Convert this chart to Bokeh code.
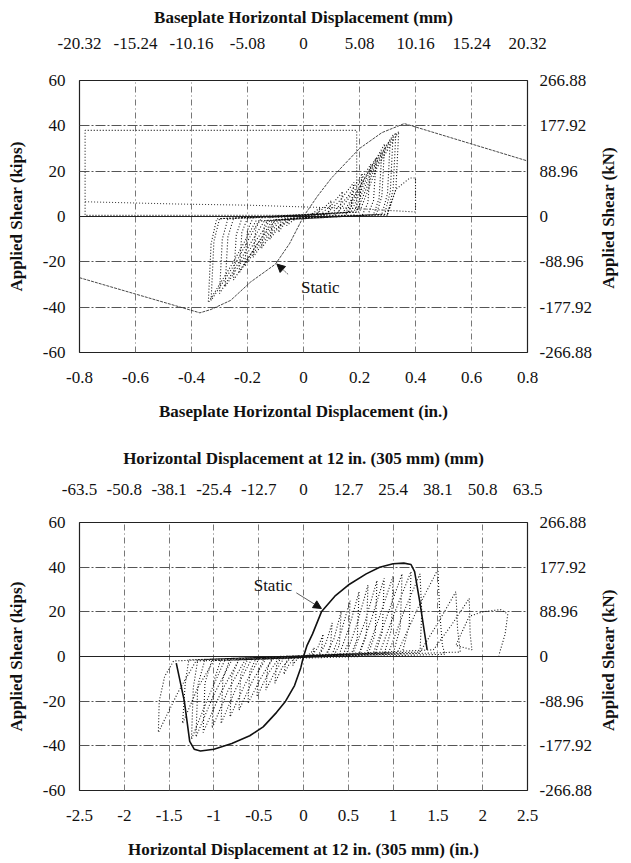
import math
from bokeh.plotting import figure
from bokeh.models import LinearAxis, FixedTicker, Range1d, Arrow, NormalHead
from bokeh.layouts import column
from bokeh.core.properties import value
from bokeh.embed import file_html
from bokeh.resources import INLINE

FONT = "'Liberation Serif', 'Times New Roman', serif"

# ---------------- Top panel data (baseplate displacement, in. / kips) ----------------
top_x_ticks = [-0.8, -0.6, -0.4, -0.2, 0.0, 0.2, 0.4, 0.6, 0.8]
top_x_labels = ["-0.8", "-0.6", "-0.4", "-0.2", "0", "0.2", "0.4", "0.6", "0.8"]
top_mm_labels = ["-20.32", "-15.24", "-10.16", "-5.08", "0", "5.08", "10.16", "15.24", "20.32"]

y_ticks = [-60, -40, -20, 0, 20, 40, 60]
y_labels = ["-60", "-40", "-20", "0", "20", "40", "60"]
kn_labels = ["-266.88", "-177.92", "-88.96", "0", "88.96", "177.92", "266.88"]

top_static_x = [-0.80, -0.37, -0.33, -0.26, -0.19, -0.10, -0.05, 0.00, 0.05, 0.10, 0.20, 0.28, 0.36, 0.80]
top_static_y = [-27.0, -42.5, -41.0, -37.0, -29.0, -21.0, -12.0, 0.0, 9.0, 17.0, 30.0, 37.0, 41.0, 24.5]

top_cyc_x = [0.00,
             0.02, 0.04, 0.06, 0.05, 0.03, -0.02, -0.04, -0.06, -0.05, -0.03,
             0.04, 0.07, 0.10, 0.09, 0.07, -0.04, -0.07, -0.09, -0.08, -0.06,
             0.06, 0.10, 0.14, 0.13, 0.11, -0.05, -0.09, -0.12, -0.11, -0.09,
             0.08, 0.13, 0.18, 0.17, 0.15, -0.06, -0.11, -0.15, -0.14, -0.12,
             0.10, 0.16, 0.21, 0.20, 0.18, -0.08, -0.13, -0.18, -0.17, -0.15,
             0.12, 0.18, 0.24, 0.23, 0.21, -0.09, -0.15, -0.21, -0.20, -0.18,
             0.14, 0.20, 0.26, 0.25, 0.23, -0.10, -0.17, -0.23, -0.22, -0.20,
             0.15, 0.21, 0.28, 0.27, 0.25, -0.11, -0.18, -0.25, -0.24, -0.22,
             0.16, 0.22, 0.29, 0.28, 0.26, -0.12, -0.20, -0.28, -0.27, -0.25,
             0.17, 0.23, 0.31, 0.30, 0.28, -0.14, -0.22, -0.30, -0.29, -0.27,
             0.18, 0.24, 0.32, 0.31, 0.29, -0.16, -0.24, -0.33, -0.32, -0.30,
             0.19, 0.25, 0.33, 0.32, 0.30, -0.17, -0.25, -0.34, -0.33, -0.31,
             0.20, 0.26, 0.34, 0.33, 0.30]
top_cyc_y = [0.0,
             0.5, 2.0, 4.0, 1.0, 0.2, -0.5, -2.0, -4.0, -1.0, -0.2,
             0.8, 3.5, 7.0, 2.0, 0.3, -0.8, -3.5, -7.0, -2.0, -0.3,
             1.0, 5.0, 11.0, 3.0, 0.4, -1.0, -5.0, -10.0, -3.0, -0.4,
             1.0, 7.0, 15.0, 4.0, 0.5, -1.0, -7.0, -14.0, -4.0, -0.5,
             1.2, 9.0, 19.0, 5.0, 0.6, -1.2, -9.0, -18.0, -5.0, -0.6,
             1.4, 11.0, 23.0, 6.0, 0.6, -1.4, -11.0, -22.0, -6.0, -0.6,
             1.5, 13.0, 26.0, 7.0, 0.7, -1.5, -13.0, -25.0, -7.0, -0.7,
             1.6, 15.0, 29.0, 8.0, 0.8, -1.6, -15.0, -28.0, -8.0, -0.8,
             1.8, 17.0, 32.0, 9.0, 0.9, -1.8, -16.0, -31.0, -9.0, -0.9,
             2.0, 18.0, 34.0, 10.0, 1.0, -2.0, -18.0, -34.0, -10.0, -1.0,
             2.0, 19.0, 36.0, 11.0, 1.0, -2.0, -20.0, -37.0, -11.0, -1.0,
             2.0, 20.0, 37.0, 12.0, 1.0, -2.0, -20.0, -38.0, -12.0, -1.0,
             2.0, 21.0, 37.5, 12.0, 1.0]

top_end_x = [0.30, 0.33, 0.38, 0.40, 0.40, 0.19, 0.19, -0.78, -0.78, 0.30]
top_end_y = [1.0, 12.0, 17.0, 17.0, 2.0, 3.5, 38.0, 38.0, 0.5, 0.5]
top_low_x = [-0.78, -0.45, -0.20, 0.19]
top_low_y = [6.5, 5.5, 5.0, 3.5]

# ---------------- Bottom panel data (displacement at 12 in., in. / kips) ----------------
bot_x_ticks = [-2.5, -2.0, -1.5, -1.0, -0.5, 0.0, 0.5, 1.0, 1.5, 2.0, 2.5]
bot_x_labels = ["-2.5", "-2", "-1.5", "-1", "-0.5", "0", "0.5", "1", "1.5", "2", "2.5"]
bot_mm_labels = ["-63.5", "-50.8", "-38.1", "-25.4", "-12.7", "0", "12.7", "25.4", "38.1", "50.8", "63.5"]

bot_static_x = [-1.42, -1.33, -1.27, -1.22, -1.15, -1.00, -0.80, -0.60, -0.45, -0.30, -0.20, -0.10, -0.03,
                0.00, 0.04, 0.10, 0.20, 0.35, 0.50, 0.70, 0.85, 1.00, 1.12, 1.20, 1.24, 1.30, 1.38]
bot_static_y = [-3.0, -20.0, -38.0, -41.5, -42.3, -41.5, -39.0, -35.5, -31.5, -25.0, -20.0, -13.0, -5.0,
                0.0, 5.0, 10.0, 20.0, 27.0, 32.0, 37.0, 40.0, 41.5, 41.8, 41.2, 38.0, 24.0, 3.0]

bot_cyc_x = [0.00,
             0.05, 0.09, 0.12, 0.11, 0.08, -0.05, -0.09, -0.12, -0.11, -0.08,
             0.10, 0.16, 0.22, 0.20, 0.16, -0.10, -0.16, -0.22, -0.20, -0.16,
             0.18, 0.25, 0.32, 0.30, 0.25, -0.15, -0.24, -0.32, -0.30, -0.25,
             0.25, 0.34, 0.42, 0.40, 0.34, -0.22, -0.32, -0.42, -0.40, -0.34,
             0.32, 0.42, 0.52, 0.50, 0.44, -0.28, -0.40, -0.52, -0.50, -0.44,
             0.40, 0.51, 0.62, 0.60, 0.53, -0.35, -0.48, -0.62, -0.60, -0.53,
             0.48, 0.60, 0.72, 0.70, 0.62, -0.42, -0.57, -0.72, -0.70, -0.62,
             0.55, 0.69, 0.82, 0.80, 0.72, -0.50, -0.66, -0.82, -0.80, -0.72,
             0.62, 0.76, 0.90, 0.88, 0.80, -0.58, -0.75, -0.92, -0.90, -0.82,
             0.70, 0.85, 1.00, 0.98, 0.90, -0.65, -0.84, -1.02, -1.00, -0.92,
             0.78, 0.94, 1.10, 1.08, 1.00, -0.72, -0.92, -1.12, -1.10, -1.02,
             0.85, 1.02, 1.20, 1.18, 1.10, -0.80, -1.00, -1.20, -1.18, -1.10,
             0.95, 1.12, 1.30, 1.32, 1.30, -0.88, -1.06, -1.25, -1.23, -1.18,
             1.05, 1.28, 1.50, 1.52, 1.55, 1.58, -1.00, -1.18, -1.35, -1.32, -1.28,
             1.30, 1.50, 1.70, 1.72, 1.75, -1.20, -1.40, -1.62, -1.61, -1.55, -1.45,
             1.45, 1.65, 1.85, 1.86, 1.88,
             1.70, 1.85, 2.00, 2.20, 2.28, 2.25, 2.18]
bot_cyc_y = [0.0,
             0.6, 2.0, 4.0, 1.5, 0.3, -0.6, -2.0, -4.0, -1.5, -0.3,
             0.7, 4.0, 10.0, 3.0, 0.4, -0.7, -3.5, -8.0, -3.0, -0.4,
             0.8, 6.0, 15.0, 4.0, 0.5, -0.8, -5.0, -12.0, -4.0, -0.5,
             0.9, 8.0, 20.0, 5.0, 0.6, -0.9, -7.0, -15.0, -5.0, -0.6,
             1.0, 11.0, 25.0, 6.0, 0.7, -1.0, -8.0, -18.0, -6.0, -0.7,
             1.0, 13.0, 29.0, 8.0, 0.8, -1.0, -10.0, -21.0, -7.0, -0.8,
             1.1, 15.0, 32.0, 9.0, 0.9, -1.1, -11.0, -24.0, -8.0, -0.9,
             1.2, 16.0, 34.0, 10.0, 1.0, -1.2, -13.0, -27.0, -9.0, -1.0,
             1.3, 17.0, 35.0, 11.0, 1.0, -1.3, -14.0, -30.0, -10.0, -1.0,
             1.4, 18.0, 36.0, 12.0, 1.1, -1.4, -15.0, -32.0, -11.0, -1.1,
             1.5, 19.0, 37.0, 13.0, 1.2, -1.5, -16.0, -34.0, -12.0, -1.2,
             1.6, 20.0, 38.0, 14.0, 1.3, -1.6, -17.0, -36.0, -13.0, -1.3,
             1.7, 20.0, 37.0, 20.0, 1.5, -1.7, -18.0, -37.0, -14.0, -1.5,
             1.8, 22.0, 39.0, 20.0, 5.0, 1.0, -1.8, -14.0, -30.0, -12.0, -1.5,
             2.0, 15.0, 29.0, 12.0, 2.0, -2.0, -16.0, -34.0, -20.0, -9.0, -2.0,
             3.0, 14.0, 26.0, 10.0, 3.0,
             5.0, 18.0, 20.0, 21.0, 19.0, 10.0, 0.5]


def style_axis(ax, ticks, labels, title, standoff, title_standoff):
    ax.ticker = FixedTicker(ticks=ticks)
    ax.major_label_overrides = dict(zip(ticks, labels))
    ax.axis_label = title
    ax.axis_label_text_font = FONT
    ax.axis_label_text_font_style = "bold"
    ax.axis_label_text_font_size = "17px"
    ax.axis_label_text_color = "#111111"
    ax.axis_label_standoff = title_standoff
    ax.major_label_text_font = FONT
    ax.major_label_text_font_size = "17px"
    ax.major_label_text_color = "#111111"
    ax.major_label_standoff = standoff
    ax.axis_line_color = None
    ax.major_tick_line_color = None
    ax.minor_tick_line_color = None
    ax.major_tick_in = 0
    ax.major_tick_out = 0
    ax.minor_tick_in = 0
    ax.minor_tick_out = 0


def make_panel(height, bl, br, bt, bb, xr, x_ticks, x_labels, mm_labels, x_title, mm_title,
               top_standoff, top_title_standoff, pad):
    p = figure(width=631, height=height, x_range=Range1d(*xr), y_range=Range1d(-60, 60),
               output_backend="svg", toolbar_location=None,
               min_border_left=bl, min_border_right=br, min_border_top=bt, min_border_bottom=bb,
               background_fill_color="white", border_fill_color="white",
               outline_line_color="#222222", outline_line_width=1.2)
    style_axis(p.xaxis[0], x_ticks, x_labels, x_title, 19, 16)
    style_axis(p.yaxis[0], y_ticks, y_labels, "Applied Shear (kips)", 14, 14)
    top = LinearAxis()
    p.add_layout(top, "above")
    style_axis(top, x_ticks, mm_labels, mm_title, top_standoff, top_title_standoff)
    right = LinearAxis()
    p.add_layout(right, "right")
    style_axis(right, y_ticks, kn_labels, "Applied Shear (kN)", 12, 14)
    try:
        # read bottom-to-top like the left title; anchor at the bottom of the frame and
        # lift the visible text to the middle with non-breaking spaces
        right.axis_label_align = "start"
        right.axis_label_orientation = math.pi / 2
        right.axis_label = "\u00a0" * pad + "Applied Shear (kN)"
    except Exception:
        right.axis_label = "Applied Shear (kN)"
    p.xgrid.ticker = FixedTicker(ticks=x_ticks)
    p.ygrid.ticker = FixedTicker(ticks=y_ticks)
    p.xgrid.grid_line_color = "#777777"
    p.xgrid.grid_line_dash = "6 3 1 3"
    p.xgrid.grid_line_width = 1
    p.ygrid.grid_line_color = "#555555"
    p.ygrid.grid_line_dash = "10 2 2 2"
    p.ygrid.grid_line_width = 1
    return p


# ---------------- Top panel ----------------
p1 = make_panel(432, 76, 100, 80, 80, (-0.8, 0.8), top_x_ticks, top_x_labels, top_mm_labels,
                "Baseplate Horizontal Displacement (in.)", "Baseplate Horizontal Displacement (mm)",
                32, 8, 15)
p1.line([-0.8, 0.8], [0, 0], line_color="#222222", line_width=1.2)
p1.line(top_end_x, top_end_y, line_color="#222222", line_width=1.1, line_dash="1 2")
p1.line(top_low_x, top_low_y, line_color="#333333", line_width=1.0, line_dash="1 2")
p1.line(top_cyc_x, top_cyc_y, line_color="#111111", line_width=1.1, line_dash="1 2")
p1.line(top_static_x, top_static_y, line_color="#333333", line_width=0.9, line_dash="3 1")
p1.add_layout(Arrow(end=NormalHead(size=8, fill_color="#111111", line_color="#111111"),
                    x_start=-0.055, y_start=-25.5, x_end=-0.095, y_end=-21.0,
                    line_color="#333333", line_width=0.8, line_dash="2 1"))
p1.text(x=[0.06], y=[-31.5], text=["Static"], text_font=value(FONT), text_font_size="17px",
        text_align="center", text_baseline="middle", text_color="#111111")

# ---------------- Bottom panel ----------------
p2 = make_panel(431, 79, 104, 90, 73, (-2.5, 2.5), bot_x_ticks, bot_x_labels, bot_mm_labels,
                "Horizontal Displacement at 12 in. (305 mm) (in.)",
                "Horizontal Displacement at 12 in. (305 mm) (mm)",
                28, 13, 14)
p2.line([-2.5, 2.5], [0, 0], line_color="#222222", line_width=1.2)
p2.line(bot_cyc_x, bot_cyc_y, line_color="#111111", line_width=1.1, line_dash="1 2")
p2.line(bot_static_x, bot_static_y, line_color="#111111", line_width=1.6)
p2.add_layout(Arrow(end=NormalHead(size=8, fill_color="#111111", line_color="#111111"),
                    x_start=-0.08, y_start=28.5, x_end=0.2, y_end=21.5,
                    line_color="#333333", line_width=0.8))
p2.text(x=[-0.34], y=[32.0], text=["Static"], text_font=value(FONT), text_font_size="17px",
        text_align="center", text_baseline="middle", text_color="#111111")

layout = column(p1, p2, spacing=0)
open("out.html", "w").write(file_html(layout, INLINE))
